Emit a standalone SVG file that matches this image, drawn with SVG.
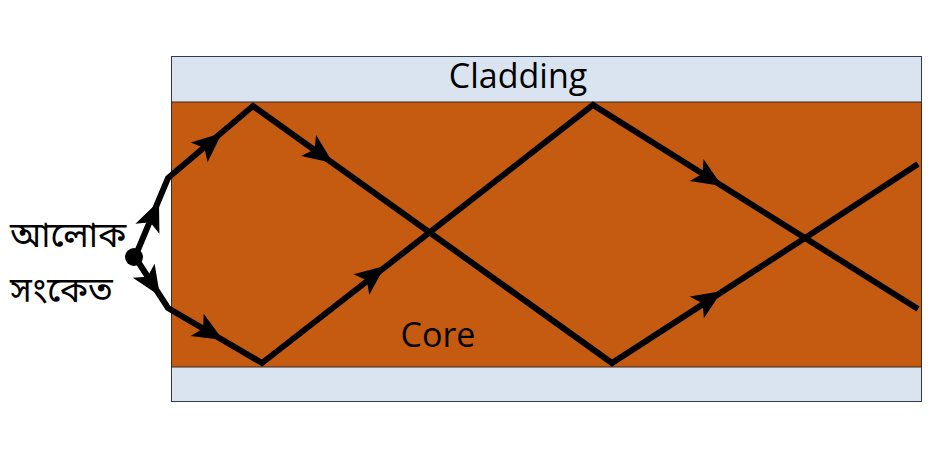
<svg xmlns="http://www.w3.org/2000/svg" width="936" height="457" viewBox="0 0 936 457">
<style>
.ray{fill:none;stroke:#000;stroke-width:6;stroke-linejoin:miter}
.lbl{font-family:"Open Sans","Liberation Sans",sans-serif;font-size:34px;fill:#000}
.bn{font-family:"Noto Sans Bengali","Noto Serif Bengali","Lohit Bengali","Noto Sans",sans-serif;font-size:35px;fill:#000}
</style>
<defs>
<polygon id="ah" points="0,0 -30,-13 -23,0 -30,13"/>
</defs>
<rect width="936" height="457" fill="#fff"/>
<g id="cladding">
<rect x="171.5" y="56.5" width="750" height="345" fill="#DAE3F0" stroke="#2F3B4E" stroke-width="1"/>
<text class="lbl" x="518" y="88" text-anchor="middle">Cladding</text>
</g>
<g id="core">
<rect x="171.5" y="102" width="750" height="265" fill="#C55A11" stroke="#3A2A20" stroke-width="1"/>
<text class="lbl" x="438" y="347" text-anchor="middle">Core</text>
</g>
<g id="connectors">
<polyline class="ray" points="135,257 168,178 253,106 612,363 805,238 918,164"/>
<polyline class="ray" points="135,257 168,308 262,363 593,105 805,238 918,309"/>
<use href="#ah" transform="translate(159,201) rotate(-67.3)"/>
<use href="#ah" transform="translate(222,133) rotate(-40.3)"/>
<use href="#ah" transform="translate(333,163) rotate(35.6)"/>
<use href="#ah" transform="translate(722,186) rotate(32.1)"/>
<use href="#ah" transform="translate(160,296) rotate(57.1)"/>
<use href="#ah" transform="translate(223,340) rotate(30.3)"/>
<use href="#ah" transform="translate(385,266) rotate(-37.9)"/>
<use href="#ah" transform="translate(722,291) rotate(-32.9)"/>
<circle cx="134" cy="257" r="9" fill="#000"/>
</g>
<g id="signal">
<text class="bn" x="10" y="247">আলোক</text>
<text class="bn" x="10" y="302">সংকেত</text>
</g>
</svg>
